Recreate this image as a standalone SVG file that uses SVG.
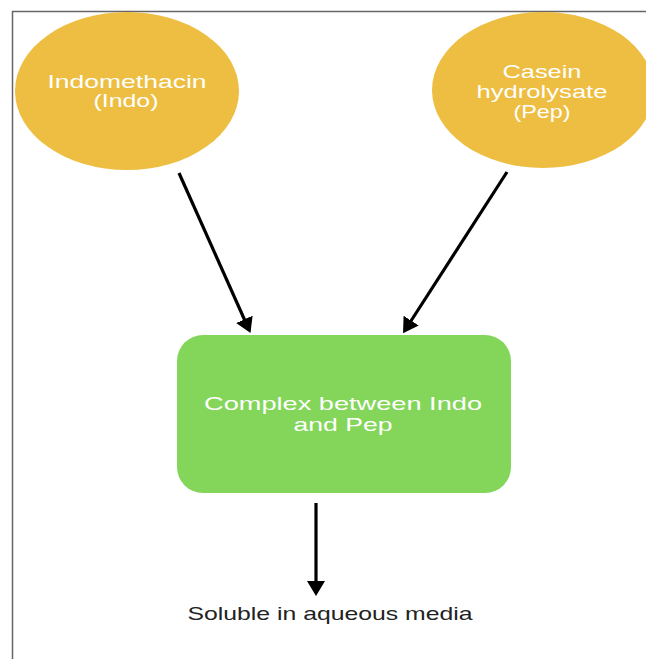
<svg xmlns="http://www.w3.org/2000/svg" width="646" height="659" viewBox="0 0 646 659">
<style>
.oval{fill:#EDBE41;}
.box{fill:#83D65A;}
.lbl{font-family:"Liberation Sans",Arial,sans-serif;font-size:19px;fill:#ffffff;text-anchor:middle;}
.dark{fill:#222222;}
.conn{stroke:#000;stroke-width:3.2;fill:none;marker-end:url(#ah);}
</style>
<defs>
<marker id="ah" viewBox="0 0 15 18" refX="4" refY="9" markerWidth="15" markerHeight="18" markerUnits="userSpaceOnUse" orient="auto">
<path d="M0,0 L15,9 L0,18 z" fill="#000"/>
</marker>
</defs>
<rect x="0" y="0" width="646" height="659" fill="#fff"/>
<path d="M12.5,659 L12.5,11.5 L646,11.5" fill="none" stroke="#666" stroke-width="1.5"/>
<g id="indo">
<ellipse class="oval" cx="127" cy="91" rx="112" ry="79"/>
<text class="lbl" x="127" y="88" textLength="159" lengthAdjust="spacingAndGlyphs">Indomethacin</text>
<text class="lbl" x="126" y="107" textLength="65" lengthAdjust="spacingAndGlyphs">(Indo)</text>
</g>
<g id="pep">
<ellipse class="oval" cx="543" cy="90" rx="111" ry="78"/>
<text class="lbl" x="542" y="78" textLength="79" lengthAdjust="spacingAndGlyphs">Casein</text>
<text class="lbl" x="542" y="98" textLength="131" lengthAdjust="spacingAndGlyphs">hydrolysate</text>
<text class="lbl" x="542" y="118" textLength="57" lengthAdjust="spacingAndGlyphs">(Pep)</text>
</g>
<g id="complex">
<rect class="box" x="177" y="335" width="334" height="158" rx="26" ry="26"/>
<text class="lbl" x="343" y="410" textLength="278" lengthAdjust="spacingAndGlyphs">Complex between Indo</text>
<text class="lbl" x="343" y="431" textLength="99" lengthAdjust="spacingAndGlyphs">and Pep</text>
</g>
<g id="soluble">
<text class="lbl dark" x="330" y="620" textLength="285" lengthAdjust="spacingAndGlyphs">Soluble in aqueous media</text>
</g>
<g id="connectors">
<line class="conn" x1="179" y1="173" x2="246" y2="323"/>
<line class="conn" x1="507" y1="172" x2="409" y2="324"/>
<line class="conn" x1="316" y1="503" x2="316" y2="585"/>
</g>
</svg>
